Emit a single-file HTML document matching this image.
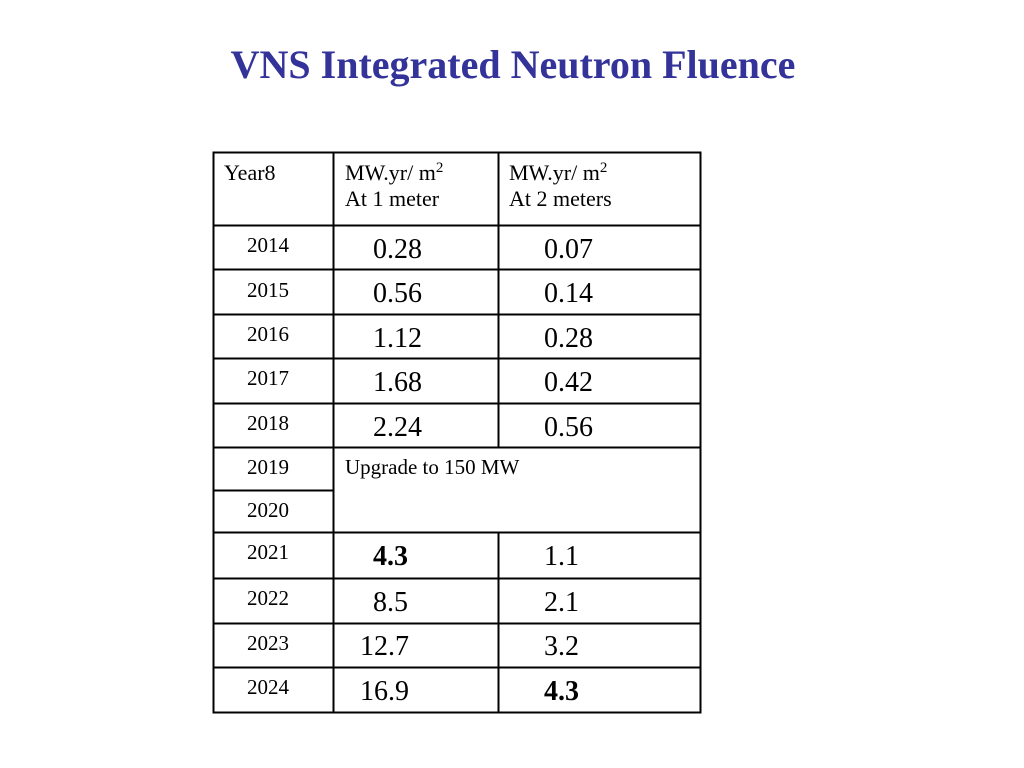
<!DOCTYPE html>
<html><head><meta charset="utf-8"><style>
body{margin:0;background:#fff;width:1024px;height:768px;overflow:hidden}
svg{display:block;font-family:"Liberation Serif","Times New Roman",serif}
</style></head><body>
<svg width="1024" height="768" viewBox="0 0 1024 768">
<text x="513" y="78" text-anchor="middle" font-size="40" font-weight="bold" fill="#333399">VNS Integrated Neutron Fluence</text>
<g stroke="#000" stroke-width="2">
<rect x="213.5" y="152.5" width="487" height="560" fill="none"/>
<line x1="333.5" y1="152" x2="333.5" y2="713"/>
<line x1="498.5" y1="152" x2="498.5" y2="447"/>
<line x1="498.5" y1="532" x2="498.5" y2="713"/>
<line x1="213" y1="225.5" x2="701" y2="225.5"/>
<line x1="213" y1="269.5" x2="701" y2="269.5"/>
<line x1="213" y1="314.5" x2="701" y2="314.5"/>
<line x1="213" y1="358.5" x2="701" y2="358.5"/>
<line x1="213" y1="403.5" x2="701" y2="403.5"/>
<line x1="213" y1="447.5" x2="701" y2="447.5"/>
<line x1="213" y1="490.5" x2="333" y2="490.5"/>
<line x1="213" y1="532.5" x2="701" y2="532.5"/>
<line x1="213" y1="578.5" x2="701" y2="578.5"/>
<line x1="213" y1="623.5" x2="701" y2="623.5"/>
<line x1="213" y1="667.5" x2="701" y2="667.5"/>
</g>
<g font-size="22" fill="#000">
<text x="224" y="180">Year8</text>
<text x="345" y="180">MW.yr/ m<tspan font-size="15" dy="-8">2</tspan></text>
<text x="345" y="206">At 1 meter</text>
<text x="509" y="180">MW.yr/ m<tspan font-size="15" dy="-8">2</tspan></text>
<text x="509" y="206">At 2 meters</text>
</g>
<g font-size="21" fill="#000">
<text x="247" y="252">2014</text>
<text x="247" y="297">2015</text>
<text x="247" y="341">2016</text>
<text x="247" y="385">2017</text>
<text x="247" y="430">2018</text>
<text x="247" y="474">2019</text>
<text x="247" y="517">2020</text>
<text x="247" y="559">2021</text>
<text x="247" y="605">2022</text>
<text x="247" y="650">2023</text>
<text x="247" y="694">2024</text>
</g>
<text x="345" y="474" font-size="21">Upgrade to 150 MW</text>
<g font-size="28" fill="#000">
<text x="373" y="258">0.28</text>
<text x="373" y="302">0.56</text>
<text x="373" y="347">1.12</text>
<text x="373" y="391">1.68</text>
<text x="373" y="436">2.24</text>
<text x="373" y="565" font-weight="bold">4.3</text>
<text x="373" y="611">8.5</text>
<text x="360" y="655">12.7</text>
<text x="360" y="700">16.9</text>
</g>
<g font-size="28" fill="#000">
<text x="544" y="258">0.07</text>
<text x="544" y="302">0.14</text>
<text x="544" y="347">0.28</text>
<text x="544" y="391">0.42</text>
<text x="544" y="436">0.56</text>
<text x="544" y="565">1.1</text>
<text x="544" y="611">2.1</text>
<text x="544" y="655">3.2</text>
<text x="544" y="700" font-weight="bold">4.3</text>
</g>
</svg>
</body></html>
